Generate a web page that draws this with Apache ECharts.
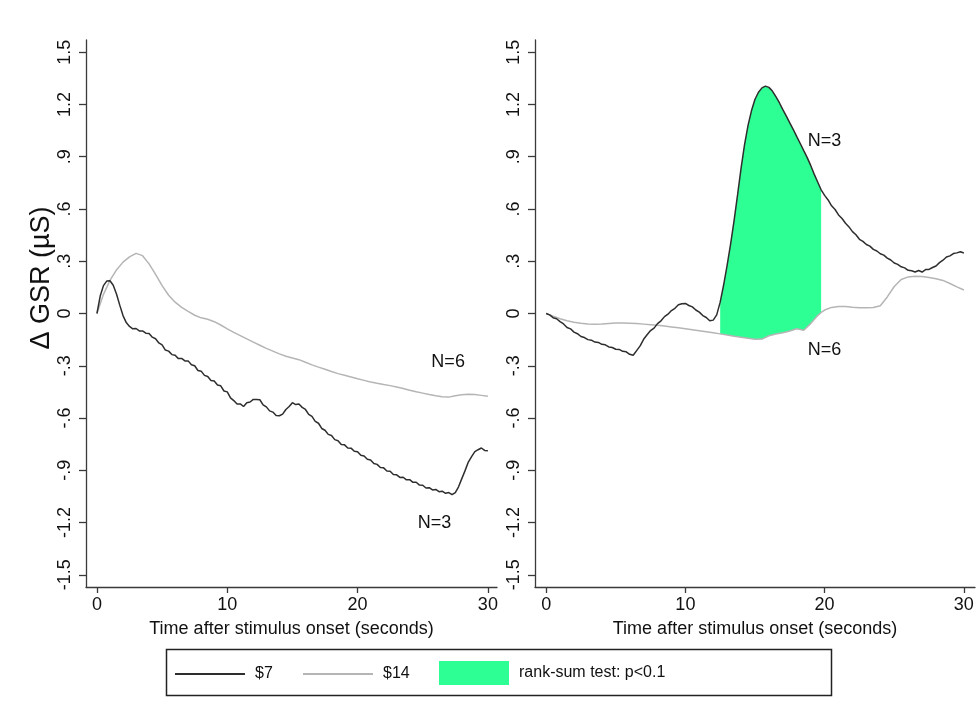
<!DOCTYPE html>
<html><head><meta charset="utf-8">
<script src="https://cdn.jsdelivr.net/npm/echarts@6/dist/echarts.min.js"></script>
<style>html,body{margin:0;padding:0;background:#fff}#c{width:980px;height:715px}</style>
</head><body><div id="c"></div>
<script>
// ---- data ----
const timesFine = [0,0.25,0.5,0.75,1,1.25,1.5,1.75,2,2.25,2.5,2.75,3,3.25,3.5,3.75,4,4.25,4.5,4.75,5,5.25,5.5,5.75,6,6.25,6.5,6.75,7,7.25,7.5,7.75,8,8.25,8.5,8.75,9,9.25,9.5,9.75,10,10.25,10.5,10.75,11,11.25,11.5,11.75,12,12.25,12.5,12.75,13,13.25,13.5,13.75,14,14.25,14.5,14.75,15,15.25,15.5,15.75,16,16.25,16.5,16.75,17,17.25,17.5,17.75,18,18.25,18.5,18.75,19,19.25,19.5,19.75,20,20.25,20.5,20.75,21,21.25,21.5,21.75,22,22.25,22.5,22.75,23,23.25,23.5,23.75,24,24.25,24.5,24.75,25,25.25,25.5,25.75,26,26.25,26.5,26.75,27,27.25,27.5,27.75,28,28.25,28.5,28.75,29,29.25,29.5,29.75,30];
const timesCoarse = [0,0.5,1,1.5,2,2.5,3,3.5,4,4.5,5,5.5,6,6.5,7,7.5,8,8.5,9,9.5,10,10.5,11,11.5,12,12.5,13,13.5,14,14.5,15,15.5,16,16.5,17,17.5,18,18.5,19,19.5,20,20.5,21,21.5,22,22.5,23,23.5,24,24.5,25,25.5,26,26.5,27,27.5,28,28.5,29,29.5,30];
const timesGrayRight = [0,0.5,1,1.5,2,2.5,3,3.5,4,4.5,5,5.5,6,6.5,7,7.5,8,8.5,9,9.5,10,10.5,11,11.5,12,12.5,13,13.5,14,14.5,15,15.5,16,16.5,17,17.5,18,18.5,19,19.5,19.75,20,20.5,21,21.5,22,22.5,23,23.5,24,24.5,25,25.5,26,26.5,27,27.5,28,28.5,29,29.5,30];

// left panel, $7 (N=3)
const left7 = [0,0.10,0.16,0.186,0.188,0.162,0.112,0.048,-0.012,-0.052,-0.074,-0.088,-0.086,-0.1,-0.1,-0.113,-0.115,-0.136,-0.145,-0.169,-0.18,-0.21,-0.216,-0.236,-0.24,-0.259,-0.258,-0.272,-0.272,-0.294,-0.3,-0.327,-0.331,-0.355,-0.362,-0.385,-0.388,-0.41,-0.415,-0.445,-0.45,-0.484,-0.5,-0.52,-0.519,-0.534,-0.512,-0.508,-0.493,-0.494,-0.495,-0.524,-0.536,-0.559,-0.566,-0.586,-0.587,-0.578,-0.551,-0.534,-0.512,-0.523,-0.52,-0.539,-0.551,-0.579,-0.591,-0.619,-0.63,-0.66,-0.67,-0.694,-0.7,-0.724,-0.73,-0.752,-0.754,-0.772,-0.773,-0.791,-0.794,-0.814,-0.818,-0.837,-0.841,-0.861,-0.866,-0.884,-0.886,-0.904,-0.906,-0.924,-0.926,-0.941,-0.94,-0.955,-0.954,-0.969,-0.969,-0.985,-0.986,-1.002,-1.0,-1.013,-1.01,-1.023,-1.02,-1.032,-1.028,-1.04,-1.028,-0.995,-0.948,-0.902,-0.853,-0.822,-0.793,-0.782,-0.772,-0.786,-0.788];
// left panel, $14 (N=6)
const left14 = [0,0.11,0.19,0.25,0.295,0.325,0.345,0.332,0.285,0.225,0.16,0.105,0.065,0.035,0.012,-0.01,-0.025,-0.033,-0.047,-0.066,-0.088,-0.108,-0.127,-0.146,-0.164,-0.182,-0.2,-0.216,-0.232,-0.245,-0.255,-0.265,-0.28,-0.295,-0.308,-0.32,-0.333,-0.345,-0.355,-0.365,-0.375,-0.384,-0.393,-0.401,-0.408,-0.414,-0.422,-0.431,-0.44,-0.449,-0.457,-0.465,-0.472,-0.478,-0.48,-0.472,-0.466,-0.464,-0.465,-0.47,-0.475];
// right panel, $7 (N=3)
const right7 = [0,-0.008,-0.024,-0.03,-0.047,-0.06,-0.08,-0.088,-0.107,-0.116,-0.132,-0.138,-0.15,-0.153,-0.164,-0.166,-0.177,-0.18,-0.192,-0.195,-0.205,-0.206,-0.217,-0.22,-0.234,-0.24,-0.213,-0.186,-0.148,-0.122,-0.098,-0.084,-0.058,-0.042,-0.018,-0.004,0.017,0.03,0.05,0.056,0.058,0.046,0.038,0.02,0.008,-0.012,-0.023,-0.042,-0.038,-0.008,0.065,0.165,0.278,0.4,0.535,0.682,0.835,0.97,1.08,1.165,1.23,1.27,1.295,1.305,1.298,1.277,1.245,1.21,1.17,1.133,1.094,1.056,1.015,0.976,0.935,0.895,0.85,0.8,0.755,0.71,0.678,0.652,0.618,0.597,0.566,0.545,0.518,0.497,0.47,0.452,0.426,0.414,0.396,0.387,0.368,0.359,0.343,0.335,0.318,0.307,0.29,0.282,0.268,0.262,0.248,0.245,0.238,0.247,0.238,0.252,0.253,0.264,0.273,0.292,0.306,0.324,0.331,0.344,0.348,0.354,0.347];
// right panel, $14 (N=6)
const right14 = [0,-0.015,-0.03,-0.042,-0.05,-0.056,-0.06,-0.062,-0.06,-0.057,-0.055,-0.055,-0.056,-0.058,-0.061,-0.064,-0.068,-0.072,-0.077,-0.082,-0.087,-0.093,-0.099,-0.105,-0.111,-0.117,-0.124,-0.13,-0.136,-0.142,-0.148,-0.147,-0.128,-0.118,-0.11,-0.1,-0.088,-0.096,-0.058,-0.012,0.006,0.02,0.035,0.04,0.04,0.036,0.033,0.033,0.034,0.045,0.095,0.155,0.195,0.21,0.214,0.212,0.207,0.2,0.19,0.172,0.153,0.135];

const sigWindow = [12.5, 19.75];   // rank-sum p<0.1 window (right panel)
const xTicks = [0, 10, 20, 30];
const yTicks = [-1.5, -1.2, -0.9, -0.6, -0.3, 0, 0.3, 0.6, 0.9, 1.2, 1.5];
const seriesNames = ['$7', '$14', 'rank-sum test: p<0.1'];
const nLabelsLeft = [{t: 26.95, v: -0.28, text: 'N=6'}, {t: 25.9, v: -1.2, text: 'N=3'}];
const nLabelsRight = [{t: 20.0, v: 0.99, text: 'N=3'}, {t: 20.0, v: -0.208, text: 'N=6'}];

// ---- styles ----
const FONT = '"Liberation Sans", Arial, sans-serif';
const BLACK = '#2e2e2e', GRAY = '#b5b5b5', GREEN = '#2eff94', AXIS = '#3a3a3a', TXT = '#111';

function stataFmt(v) {
  const s = String(Math.round(v * 10) / 10);
  return s.replace(/^(-?)0\./, '$1.');
}
function pairs(ts, vs) { return ts.map((t, i) => [t, vs[i]]); }

function xAxisDef(gridIndex, min, max) {
  return {
    type: 'value', gridIndex, min, max,
    name: 'Time after stimulus onset (seconds)', nameLocation: 'middle', nameGap: 33,
    nameTextStyle: {fontFamily: FONT, fontSize: 18, color: TXT},
    axisLine: {show: true, onZero: false, lineStyle: {color: AXIS, width: 1.3}},
    axisTick: {show: true, inside: false, length: 6, customValues: xTicks, lineStyle: {color: AXIS, width: 1.3}},
    axisLabel: {customValues: xTicks, margin: 9, fontFamily: FONT, fontSize: 18, color: TXT},
    splitLine: {show: false}
  };
}
function yAxisDef(gridIndex) {
  return {
    type: 'value', gridIndex, min: -1.57, max: 1.57,
    axisLine: {show: true, onZero: false, lineStyle: {color: AXIS, width: 1.3}},
    axisTick: {show: true, inside: false, length: 7, customValues: yTicks, lineStyle: {color: AXIS, width: 1.3}},
    axisLabel: {customValues: yTicks, rotate: 90, margin: 12, fontFamily: FONT, fontSize: 18, color: TXT, formatter: stataFmt},
    splitLine: {show: false}
  };
}
function lineSeries(name, idx, data, color) {
  return {
    type: 'line', name, xAxisIndex: idx, yAxisIndex: idx, data,
    showSymbol: false, symbol: 'none', smooth: false, z: 3,
    itemStyle: {color}, lineStyle: {color, width: 1.5}, emphasis: {disabled: true}
  };
}
function nSeries(idx, items) {
  return {
    type: 'scatter', name: 'N labels ' + idx, xAxisIndex: idx, yAxisIndex: idx,
    symbolSize: 1, itemStyle: {color: '#ffffff', opacity: 0}, z: 4, silent: true,
    data: items.map(d => ({value: [d.t, d.v], name: d.text})),
    label: {show: true, position: 'inside', formatter: '{b}', fontFamily: FONT, fontSize: 18,
            color: TXT, opacity: 1, textBorderWidth: 0, textShadowBlur: 0}
  };
}

const chart = echarts.init(document.getElementById('c'), null, {renderer: 'canvas'});
const legendText = {fontFamily: FONT, fontSize: 16, color: TXT, padding: [0, 0, 0, 5]};
chart.setOption({
  animation: false,
  backgroundColor: '#fff',
  grid: [
    {left: 86, top: 40, width: 411, height: 547},
    {left: 535, top: 40, width: 440, height: 547}
  ],
  xAxis: [xAxisDef(0, -0.84, 30.7), xAxisDef(1, -0.8, 30.8)],
  yAxis: [yAxisDef(0), yAxisDef(1)],
  legend: [
    {data: [{name: seriesNames[0], icon: 'rect'}], left: 175, top: 666, itemWidth: 70, itemHeight: 2, padding: 0, selectedMode: false, itemStyle: {borderWidth: 0}, textStyle: legendText},
    {data: [{name: seriesNames[1], icon: 'rect'}], left: 303, top: 666, itemWidth: 70, itemHeight: 2, padding: 0, selectedMode: false, itemStyle: {borderWidth: 0}, textStyle: legendText},
    {data: [{name: seriesNames[2], icon: 'rect'}], left: 439, top: 661, itemWidth: 70, itemHeight: 24, padding: 0, selectedMode: false, itemStyle: {borderWidth: 0}, textStyle: legendText}
  ],
  graphic: [
    {type: 'rect', shape: {x: 166.5, y: 649.5, width: 665, height: 46}, style: {fill: 'none', stroke: '#222', lineWidth: 1.5}, silent: true},
    {type: 'text', x: 42, y: 278, rotation: Math.PI / 2, silent: true,
     style: {text: 'Δ GSR (µS)', fontFamily: FONT, fontSize: 27, fill: TXT, align: 'center', verticalAlign: 'middle'}}
  ],
  series: [
    {
      type: 'custom', name: seriesNames[2], xAxisIndex: 1, yAxisIndex: 1, z: 1, silent: true,
      itemStyle: {color: GREEN},
      data: [[sigWindow[0], 0]],
      renderItem: function (params, api) {
        const pts = [];
        timesFine.forEach((t, i) => { if (t >= sigWindow[0] && t <= sigWindow[1]) pts.push(api.coord([t, right7[i]])); });
        for (let i = timesGrayRight.length - 1; i >= 0; i--) {
          const t = timesGrayRight[i];
          if (t >= sigWindow[0] && t <= sigWindow[1]) pts.push(api.coord([t, right14[i]]));
        }
        return {type: 'polygon', shape: {points: pts}, style: {fill: GREEN}};
      }
    },
    lineSeries(seriesNames[1], 0, pairs(timesCoarse, left14), GRAY),
    lineSeries(seriesNames[0], 0, pairs(timesFine, left7), BLACK),
    lineSeries(seriesNames[1], 1, pairs(timesGrayRight, right14), GRAY),
    lineSeries(seriesNames[0], 1, pairs(timesFine, right7), BLACK),
    nSeries(0, nLabelsLeft),
    nSeries(1, nLabelsRight)
  ]
});
</script>
</body></html>
